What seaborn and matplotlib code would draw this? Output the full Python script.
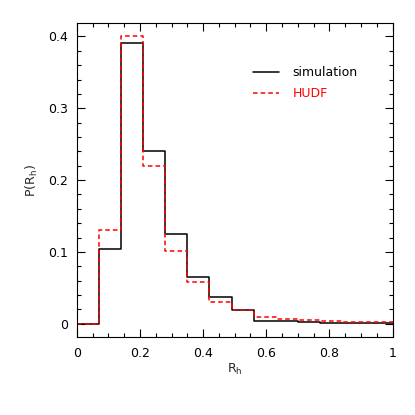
import numpy as np
import pandas as pd
import matplotlib
matplotlib.use("Agg")
import matplotlib.pyplot as plt
import seaborn as sns
from matplotlib.ticker import MultipleLocator, FuncFormatter

# Histogram bin edges in R_h (bin width 0.07, last bin clipped by the axis)
bin_edges = [0.00, 0.07, 0.14, 0.21, 0.28, 0.35, 0.42, 0.49,
             0.56, 0.63, 0.70, 0.77, 0.84, 0.91, 0.98, 1.05]

# P(R_h) per bin
p_simulation = [0.000, 0.104, 0.391, 0.241, 0.125, 0.065, 0.037, 0.019,
                0.0045, 0.0045, 0.0025, 0.0015, 0.001, 0.001, 0.001]
p_hudf = [0.000, 0.130, 0.400, 0.220, 0.101, 0.058, 0.030, 0.019,
          0.009, 0.007, 0.0046, 0.0037, 0.0028, 0.002, 0.002]


def step_frame(values, name):
    # repeat last value so the final bin gets drawn with steps-post
    return pd.DataFrame({"R_h": bin_edges,
                         "P": list(values) + [values[-1]],
                         "sample": name})


sns.set_style("ticks")
plt.rcParams["font.family"] = ["DejaVu Sans"]

fig = plt.figure(figsize=(4.15, 4.15), dpi=100)
ax = fig.add_axes([0.185, 0.187, 0.761, 0.758])

sns.lineplot(data=step_frame(p_simulation, "simulation"), x="R_h", y="P",
             drawstyle="steps-post", color="black", lw=1.1,
             label="simulation", ax=ax)
sns.lineplot(data=step_frame(p_hudf, "HUDF"), x="R_h", y="P",
             drawstyle="steps-post", color="red", lw=1.1,
             linestyle=(0, (3, 2)), label="HUDF", ax=ax)

ax.set_xlim(0, 1)
ax.set_ylim(-0.019, 0.419)

ax.xaxis.set_major_locator(MultipleLocator(0.2))
ax.xaxis.set_minor_locator(MultipleLocator(0.05))
ax.yaxis.set_major_locator(MultipleLocator(0.1))
ax.yaxis.set_minor_locator(MultipleLocator(0.02))
fmt = FuncFormatter(lambda v, pos: f"{v:g}")
ax.xaxis.set_major_formatter(fmt)
ax.yaxis.set_major_formatter(fmt)

ax.tick_params(which="both", direction="in", top=True, right=True,
               width=0.8, labelsize=9, colors="black")
ax.tick_params(which="major", length=6)
ax.tick_params(which="minor", length=3)
ax.tick_params(axis="x", pad=7)
ax.tick_params(axis="y", pad=6)
for side in ax.spines.values():
    side.set_linewidth(0.8)
    side.set_color("black")

ax.set_xlabel(r"R$_\mathregular{h}$", fontsize=9, labelpad=1)
ax.set_ylabel(r"P(R$_\mathregular{h}$)", fontsize=9, labelpad=6)

ax.legend(loc="upper left", bbox_to_anchor=(0.558, 0.862), frameon=False,
          borderpad=0, borderaxespad=0,
          handlelength=2.1, handletextpad=1.05, labelspacing=0.62,
          fontsize=9, labelcolor="linecolor")

plt.savefig("out.png", dpi=100)
plt.close()
